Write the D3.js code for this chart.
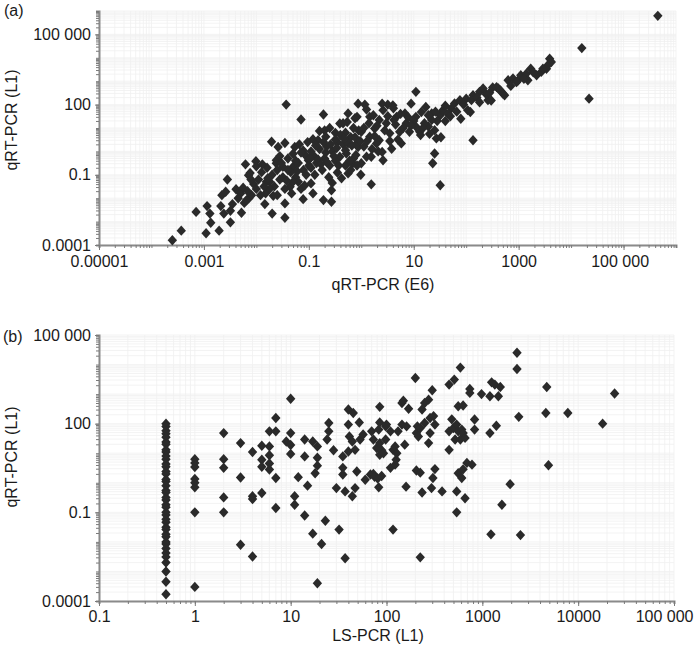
<!DOCTYPE html>
<html>
<head>
<meta charset="utf-8">
<script src="https://cdn.jsdelivr.net/npm/d3@7"></script>
<style>
  html, body { margin: 0; padding: 0; background: #fff; }
  svg text { font-family: "Liberation Sans", Arial, Helvetica, sans-serif; fill: #1a1a1a; }
</style>
</head>
<body>
<svg id="chart" width="695" height="649"></svg>
<script>
// ---------------- Panel (a): qRT-PCR (E6) vs qRT-PCR (L1) ----------------
const aE6 = [
  2.5e-4, 3.7e-4, 7.1e-4, 1.15e-3, 1.3e-3, 1.35e-3, 1.1e-3, 1.95e-3, 2.1e-3, 2.2e-3,
  2.8e-3, 3.2e-3, 3.2e-3, 2.4e-3, 2.6e-3, 4.1e-3, 5.2e-3, 5.9e-3, 6.2e-3, 7.1e-3,
  7.2e-3, 8.1e-3, 9.8e-3, 1.0e-2, 3.5e-3, 6.5e-3, 7.6e-3, 5.0e-3, 5.6e-3, 6.8e-3,
  8.9e-3, 7.9e-3, 1.2e-2, 1.45e-2, 1.5e-2, 1.95e-2, 1.8e-2, 2.2e-2, 2.6e-2, 2.5e-2,
  3.7e-2, 7.1e-2, 3.5e-2, 2.4e-2, 3.5e-2, 3.5e-2, 2.0e-2, 7.8e-2, 1.55e-2, 2.4e-2,
  3.2e-2, 4.4e-2, 5.0e-2, 5.4e-2, 7.8e-2, 9.8e-2, 0.11, 0.12, 4.5e-2, 5.6e-2,
  6.3e-2, 7.9e-2, 8.9e-2, 3.2e-2, 2.0e-2, 2.8e-2, 4.0e-2, 5.0e-2, 6.3e-2, 0.1,
  8.9e-2, 1.26e-2, 1.6e-2, 1.8e-2, 2.8e-2, 3.5e-2, 5.0e-2, 7.1e-2, 5.6e-2, 4.0e-2,
  2.5e-2, 1.4e-2, 7.1e-2,
  0.12, 0.16, 0.21, 0.32, 0.39, 0.54, 0.87, 0.19, 0.83, 0.98,
  0.42, 0.27, 0.19, 0.27, 0.15, 0.56, 0.45, 0.76, 0.52, 0.69,
  0.39, 0.56, 0.87, 0.126, 0.14, 0.16, 0.18, 0.2, 0.22, 0.25,
  0.28, 0.32, 0.35, 0.45, 0.5, 0.63, 0.71, 0.79, 0.89, 0.11,
  0.13, 0.24, 0.35, 0.5, 0.63, 0.32, 0.2, 0.25, 0.71, 0.4,
  0.28, 0.22, 0.56, 0.79, 0.11,
  1.17, 1.26, 1.45, 2.6, 3.2, 2.2, 1.55, 4.0, 3.8, 5.8,
  1.7, 1.8, 3.0, 4.7, 6.8, 7.2, 8.3, 1.0, 1.45, 2.2,
  2.6, 1.26, 8.9, 4.1, 2.5, 1.95, 3.5, 5.4, 1.0, 1.55,
  2.5, 1.6, 5.0, 3.2, 2.0, 6.3, 1.4, 4.5, 1.12, 7.9,
  11, 32, 23, 25, 135, 27, 33, 13, 19, 11,
  11, 14, 17, 22, 25, 32, 36, 52, 60, 76,
  79, 13.5, 10, 16, 28, 45, 40, 22, 20,
  100, 107, 135, 126, 180, 210, 260, 320, 410, 540,
  630, 780, 980, 120, 380, 300, 500, 160, 240,
  1100, 1400, 1700, 2200, 2700, 3400, 3900, 4200, 3600, 2900,
  910, 1500, 16000, 22000, 450000,
  4.5e-3, 1.0e-2, 1.1e-2, 1.3e-2, 1.65e-2, 2.1e-2, 3.0e-2, 3.8e-2, 4.7e-2, 6.0e-2,
  6.6e-2, 8.3e-2, 9.5e-2, 0.105, 0.135, 0.15, 0.17, 0.19, 0.21, 0.26,
  0.3, 0.34, 0.37, 0.47, 0.5, 0.6, 0.66, 0.76, 0.83, 0.95,
  1.12, 1.3, 1.8, 2.1, 2.8, 3.5, 4.2, 5.6, 8.9, 15,
  19, 26, 40, 50, 66, 89, 180, 280, 450, 710,
  1260, 1900
];
const aL1 = [
  1.6e-4, 4.1e-4, 2.6e-3, 4.6e-3, 2.2e-3, 8.9e-4, 3.2e-4, 4.1e-4, 4.6e-3, 1.35e-2,
  6.3e-2, 2.9e-3, 9.3e-4, 2.2e-3, 1.9e-2, 2.4e-2, 2.4e-3, 6.3e-3, 0.28, 9.5e-2,
  1.0e-2, 1.35e-2, 0.38, 0.23, 5.6e-3, 8.3e-3, 0.12, 1.6e-2, 2.8e-2, 2.0e-2,
  4.0e-2, 6.3e-2, 1.35e-2, 5.6e-3, 1.6e-2, 2.6, 5.0e-2, 3.2e-2, 1.55, 1.35e-2,
  100, 23, 2.3, 0.31, 6.0e-3, 1.45e-3, 2.2e-3, 9.1e-3, 5.0e-2, 0.42,
  0.22, 3.1e-2, 0.22, 1.55, 1.1, 0.42, 4.3e-2, 1.6e-2, 0.13, 7.9e-2,
  0.32, 0.16, 0.1, 7.9e-2, 0.1, 0.63, 0.5, 0.79, 5.0e-2, 0.25,
  0.63, 0.13, 0.2, 2.5e-2, 6.3e-2, 2.5e-2, 5.0e-2, 2.5e-2, 0.4, 0.16,
  0.16, 3.2e-2, 0.89,
  3.3, 7.4, 4.2, 6.2, 15.5, 18, 110, 38, 30, 0.1,
  7.1e-2, 2.2e-2, 8.3e-3, 7.1e-3, 3.0, 42, 16, 26, 0.81, 0.31,
  0.59, 0.115, 1.55, 0.63, 0.32, 1.26, 0.16, 0.5, 1.6, 0.25,
  1.0, 0.4, 2.5, 2.0, 0.25, 4.0, 0.5, 2.0, 7.9, 1.0,
  0.1, 7.9e-2, 0.126, 6.3, 0.16, 3.2, 7.9, 10, 10, 5.0,
  4.5e-2, 0.35, 2.2, 0.71, 0.2,
  100, 62, 30, 58, 100, 22, 3.9e-2, 93, 1.3, 2.2,
  35, 9.5, 16, 30, 42, 16, 6.9, 6.9, 4.2, 3.0,
  0.42, 0.59, 110, 69, 110, 2.2, 5.9, 6.9, 0.31, 0.59,
  0.95, 1.26, 3.2, 32, 12.6, 10, 16, 14, 10, 28,
  350, 3.6e-2, 0.31, 0.81, 3.0, 3.6, 4.0, 6.9, 11.5, 30,
  11.5, 48, 79, 42, 8.1, 35, 58, 69, 112, 155,
  25, 5.0, 20, 16, 20, 40, 89, 22, 5.6,
  180, 58, 250, 155, 350, 490, 155, 540, 490, 250,
  1100, 1300, 1100, 48, 560, 150, 300, 200, 280,
  1800, 2100, 3400, 1800, 2500, 3400, 9100, 6600, 4800, 3400,
  910, 1100, 26000, 180, 620000,
  1.0e-2, 2.5e-2, 6.3e-2, 0.28, 7.1e-2, 1.26e-2, 0.32, 5.6e-2, 1.6e-2, 0.14,
  2.0, 3.5e-2, 2.5, 0.5, 1.8, 0.45, 0.28, 2.5, 0.89, 2.0,
  0.63, 1.4, 0.25, 3.5, 1.12, 0.4, 1.8, 4.0, 0.25, 2.8,
  1.6, 2.8, 4.5, 1.0, 7.9, 2.8, 22, 40, 12.6, 10,
  35, 50, 20, 32, 50, 100, 126, 320, 400, 630,
  1260, 2400
];

// ---------------- Panel (b): LS-PCR (L1) vs qRT-PCR (L1) ----------------
const bLS = [
  0.5, 0.5, 0.5, 0.5, 0.5, 0.5, 0.5, 0.5, 0.5, 0.5,
  0.5, 0.5, 0.5, 0.5, 0.5, 0.5, 0.5, 0.5, 0.5, 0.5,
  0.5, 0.5, 0.5, 0.5, 0.5, 0.5, 0.5, 0.5, 0.5, 0.5,
  0.5, 0.5, 0.5, 0.5, 0.5, 0.5, 0.5, 0.5, 0.5, 0.5, 0.5,
  1, 1, 1, 1, 1, 1, 1, 1,
  2, 2, 2, 2, 2,
  3, 3, 3,
  4, 4, 4, 4,
  5, 5, 5, 5,
  6, 6, 6, 6, 6,
  7, 7, 7, 7,
  9, 10, 10, 10, 10, 11, 11, 12,
  14, 14, 14, 15, 17, 17, 18, 19, 19, 19, 19,
  21, 23, 24, 25, 25, 28, 30, 32, 35, 35, 35,
  37, 37, 40, 40, 40, 41, 44, 44, 45, 47, 47, 49,
  52, 53, 57, 60, 68, 70, 73, 73, 75, 79, 81, 83, 83,
  85, 85, 85, 85, 89, 89, 93, 98, 98, 100,
  110, 110, 117, 117, 123, 123, 126, 128, 132,
  145, 145, 150, 155, 160, 162, 170,
  200, 205, 205, 210, 215, 225, 225, 225, 235, 235,
  250, 250, 275, 275, 285, 285, 295, 300, 305, 320, 310, 320,
  380, 450, 450, 450, 480, 500, 510, 520, 540, 540, 540,
  560, 560, 560, 590, 590, 610, 610, 630, 630, 630, 660, 660, 690,
  740, 740, 780, 830, 830, 980,
  1200, 1200, 1230, 1250, 1350, 1400, 1470, 1540, 1600, 1950,
  2300, 2300, 2400, 2500, 4600, 4700, 4900, 7800, 18000, 24000
];
const bL1 = [
  100, 80, 58, 46, 35, 24, 20, 13, 11, 8,
  6.2, 4.3, 3.5, 2.4, 2, 1.3, 1.1, 0.8, 0.55, 0.47,
  0.32, 0.26, 0.18, 0.15, 0.1, 0.082, 0.058, 0.046, 0.031, 0.026,
  0.018, 0.015, 0.01, 0.0085, 0.006, 0.0042, 0.0031, 0.002, 0.001, 0.00045, 0.00017,
  6.3, 4.7, 3.4, 1.35, 1.0, 0.7, 0.1, 0.0003,
  48, 6.3, 3.2, 0.32, 0.1,
  22, 1.5, 0.008,
  11, 0.35, 0.28, 0.0032,
  18, 6.0, 3.5, 0.45,
  55, 17, 8.5, 4.5, 2.8,
  155, 55, 1.45, 0.14,
  25, 700, 48, 19, 9.5, 0.35, 0.18, 1.55,
  29, 7.8, 0.078, 0.8, 25, 0.019, 2.1, 17, 7.0, 3.8, 0.0004,
  0.0085, 0.052, 29, 105, 55, 12.6, 0.66, 0.026, 7.8, 3.2, 1.9,
  0.0028, 0.51, 300, 93, 11.5, 37, 25, 0.35, 230, 13, 0.66, 2.4,
  110, 29, 43, 1.26, 1.9, 55, 29, 2.0, 1.6, 15, 1.4, 63, 0.7,
  370, 110, 22, 8.9, 12.6, 1.7, 10, 29, 81, 93,
  55, 3.2, 13, 0.026, 17, 4.1, 6.0, 10, 55,
  500, 93, 600, 19.5, 0.74, 81, 320,
  3500, 48, 2.6, 81, 37, 71, 0.003, 2.2, 300, 0.47,
  105, 500, 650, 22, 155, 48, 0.66, 1350, 1.45, 2.9, 180, 93,
  0.51, 2100, 55, 13, 140, 71, 3100, 29, 93, 0.51, 0.1,
  390, 55, 2.1, 7900, 29, 63, 1.45, 410, 48, 2.85, 33, 0.3, 4.7,
  1500, 1100, 4.1, 138, 63, 1000,
  850, 48, 0.018, 2500, 2100, 85, 850, 1740, 0.18, 0.9,
  25000, 7100, 170, 0.017, 230, 1740, 3.9, 230, 100, 1050
];

// ---------------- Axis tick values & labels ----------------
const aXTicks = [1e-5, 1e-3, 0.1, 10, 1000, 1e5];
const aXLabels = ["0.00001", "0.001", "0.1", "10", "1000", "100 000"];
const aYTicks = [1e-4, 0.1, 100, 1e5];
const aYLabels = ["0.0001", "0.1", "100", "100 000"];
const bXTicks = [0.1, 1, 10, 100, 1000, 1e4, 1e5];
const bXLabels = ["0.1", "1", "10", "100", "1000", "10000", "100 000"];
const bYTicks = [1e-4, 0.1, 100, 1e5];
const bYLabels = ["0.0001", "0.1", "100", "100 000"];

const svg = d3.select("#chart");

function minorValues(lo, hi) {
  const out = [];
  for (let e = Math.round(Math.log10(lo)); e < Math.round(Math.log10(hi)); e++) {
    for (let m = 1; m < 10; m++) out.push(m * Math.pow(10, e));
  }
  out.push(hi);
  return out;
}

function panel(cfg) {
  const x = d3.scaleLog().domain(cfg.xDomain).range([cfg.left, cfg.right]);
  const y = d3.scaleLog().domain(cfg.yDomain).range([cfg.bottom, cfg.top]);
  const g = svg.append("g");

  const xMin = minorValues(cfg.xDomain[0], cfg.xDomain[1]);
  const yMin = minorValues(cfg.yDomain[0], cfg.yDomain[1]);

  // faint grid
  const grid = g.append("g").attr("stroke", "#f0f0f0").attr("stroke-width", 0.8);
  grid.selectAll("line.gx").data(xMin).join("line")
    .attr("x1", d => x(d)).attr("x2", d => x(d))
    .attr("y1", cfg.top).attr("y2", cfg.bottom);
  grid.selectAll("line.gy").data(yMin).join("line")
    .attr("x1", cfg.left).attr("x2", cfg.right)
    .attr("y1", d => y(d)).attr("y2", d => y(d));

  // minor ticks
  const xMinorAxis = d3.axisBottom(x).tickValues(xMin).tickSize(3).tickFormat("");
  const yMinorAxis = d3.axisLeft(y).tickValues(yMin).tickSize(3).tickFormat("");
  const gxm = g.append("g").attr("transform", `translate(0,${cfg.bottom})`).call(xMinorAxis);
  const gym = g.append("g").attr("transform", `translate(${cfg.left},0)`).call(yMinorAxis);
  [gxm, gym].forEach(s => {
    s.select(".domain").attr("stroke", "#8a8a8a").attr("stroke-width", 2);
    s.selectAll(".tick line").attr("stroke", "#7a7a7a").attr("stroke-width", 1);
  });

  // major ticks with labels
  const xAxis = d3.axisBottom(x).tickValues(cfg.xTicks).tickSize(5).tickPadding(cfg.xPad)
    .tickFormat((d, i) => cfg.xLabels[i]);
  const yAxis = d3.axisLeft(y).tickValues(cfg.yTicks).tickSize(4).tickPadding(4)
    .tickFormat((d, i) => cfg.yLabels[i]);
  const gx = g.append("g").attr("transform", `translate(0,${cfg.bottom})`).call(xAxis);
  const gy = g.append("g").attr("transform", `translate(${cfg.left},0)`).call(yAxis);
  [gx, gy].forEach(s => {
    s.select(".domain").remove();
    s.selectAll(".tick line").attr("stroke", "#7a7a7a").attr("stroke-width", 1);
    s.selectAll(".tick text").attr("font-size", 16)
      .attr("font-family", '"Liberation Sans", Arial, sans-serif').attr("fill", "#1a1a1a");
  });
  // last x label is pulled inside the page edge, as in the original
  const lastX = gx.selectAll(".tick text").filter((d, i, n) => i === n.length - 1);
  lastX.attr("text-anchor", "end").attr("x", cfg.lastLabelEnd);

  // points (diamonds)
  const diamond = "M0,-5.2L4.7,0L0,5.2L-4.7,0Z";
  g.append("g").selectAll("path").data(cfg.xs.map((v, i) => [v, cfg.ys[i]])).join("path")
    .attr("d", diamond)
    .attr("transform", d => `translate(${x(d[0])},${y(d[1])})`)
    .attr("fill", "#2a2a2a");

  // axis titles
  g.append("text").attr("x", cfg.xTitleX).attr("y", cfg.xTitleY)
    .attr("text-anchor", "middle").attr("font-size", 16).text(cfg.xTitle);
  g.append("text").attr("transform", `translate(${cfg.yTitleX},${cfg.yTitleY}) rotate(-90)`)
    .attr("text-anchor", "middle").attr("font-size", 16).text(cfg.yTitle);
  g.append("text").attr("x", cfg.tagX).attr("y", cfg.tagY).attr("font-size", 16).text(cfg.tag);
}

panel({
  xs: aE6, ys: aL1,
  xDomain: [1e-5, 1e6], yDomain: [1e-4, 1e6],
  left: 99, right: 676, top: 11, bottom: 245,
  xTicks: aXTicks, xLabels: aXLabels, yTicks: aYTicks, yLabels: aYLabels,
  xPad: 6, lastLabelEnd: 25,
  xTitle: "qRT-PCR (E6)", xTitleX: 383, xTitleY: 290,
  yTitle: "qRT-PCR (L1)", yTitleX: 17, yTitleY: 120,
  tag: "(a)", tagX: 4, tagY: 16
});

panel({
  xs: bLS, ys: bL1,
  xDomain: [0.1, 1e5], yDomain: [1e-4, 1e5],
  left: 99, right: 674, top: 335, bottom: 601,
  xTicks: bXTicks, xLabels: bXLabels, yTicks: bYTicks, yLabels: bYLabels,
  xPad: 5, lastLabelEnd: 19,
  xTitle: "LS-PCR (L1)", xTitleX: 378, xTitleY: 641,
  yTitle: "qRT-PCR (L1)", yTitleX: 17, yTitleY: 457,
  tag: "(b)", tagX: 3, tagY: 342
});
</script>
</body>
</html>
